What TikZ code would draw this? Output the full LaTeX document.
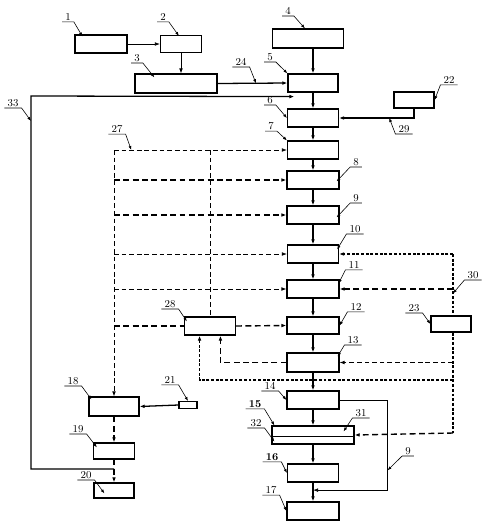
\documentclass[tikz,border=0pt]{standalone}
\usepackage{tikz}
\usetikzlibrary{arrows.meta,calc}

\tikzset{
	box/.style={draw, line width=1pt, inner sep=0pt},
	tag/.style={font=\small, inner xsep=2.5pt, inner ysep=1pt},
	lead/.style={line width=0.5pt, -{Latex[length=1.2mm,width=0.9mm]}},
	pipe/.style={line width=1.1pt},
	fine/.style={line width=0.6pt},
	dashline/.style={line width=0.6pt, dash pattern=on 4pt off 2.5pt},
	heavydash/.style={line width=1.2pt, dash pattern=on 5pt off 3pt},
	shortdash/.style={line width=1.1pt, dash pattern=on 2.5pt off 1.5pt}
}

\begin{document}
\begin{tikzpicture}[x=0.03cm, y=-0.03cm, >={Latex[length=1.5mm,width=1.1mm]}]
	\useasboundingbox (0,0) rectangle (486,527);
	% boxes
	\node[box, minimum width=1.56cm, minimum height=.54cm] (b1) at (101,44) {};
	\node[box, minimum width=1.23cm, minimum height=.51cm] (b2) at (181,44) {};
	\node[box, minimum width=2.46cm, minimum height=.57cm] (b3) at (176,83.5) {};
	\node[box, minimum width=2.13cm, minimum height=.57cm] (b4) at (308,38.5) {};
	\node[box, minimum width=1.5cm, minimum height=.54cm] (b5) at (313,83) {};
	\node[box, minimum width=1.53cm, minimum height=.54cm] (b6) at (313,118) {};
	\node[box, minimum width=1.53cm, minimum height=.54cm] (b7) at (313,150) {};
	\node[box, minimum width=1.56cm, minimum height=.54cm] (b8) at (313,180) {};
	\node[box, minimum width=1.56cm, minimum height=.54cm] (b9) at (313,215) {};
	\node[box, minimum width=1.53cm, minimum height=.54cm] (b10) at (313,254) {};
	\node[box, minimum width=1.56cm, minimum height=.54cm] (b11) at (313,289) {};
	\node[box, minimum width=1.56cm, minimum height=.51cm] (b12) at (313,325.5) {};
	\node[box, minimum width=1.56cm, minimum height=.57cm] (b13) at (313,362.5) {};
	\node[box, minimum width=1.56cm, minimum height=.54cm] (b14) at (313,400) {};
	\node[box, minimum width=2.46cm, minimum height=.54cm] (b15) at (313,435) {};
	\node[box, minimum width=1.53cm, minimum height=.54cm] (b16) at (313,473) {};
	\node[box, minimum width=1.56cm, minimum height=.54cm] (b17) at (313,511) {};
	\node[box, minimum width=1.5cm, minimum height=.57cm] (b18) at (114,406.5) {};
	\node[box, minimum width=1.23cm, minimum height=.48cm] (b19) at (114,451) {};
	\node[box, minimum width=1.2cm, minimum height=.45cm] (b20) at (114,490.5) {};
	\node[box, minimum width=.54cm, minimum height=.21cm] (b21) at (188,405) {};
	\node[box, minimum width=1.2cm, minimum height=.48cm] (b22) at (414,100) {};
	\node[box, minimum width=1.2cm, minimum height=.48cm] (b23) at (451,324) {};
	\node[box, minimum width=1.53cm, minimum height=.54cm] (b28) at (210,326) {};
	\draw[line width=0.8pt] ($(b15.north west)!.6!(b15.south west)$) -- ($(b15.north east)!.6!(b15.south east)$);
	% main line
	\draw[pipe,->] (b4.south -| b5) -- (b5.north);
	\foreach \a/\b in {5/6,6/7,7/8,8/9,9/10,10/11,11/12,12/13,13/14,14/15,15/16,16/17}
		\draw[pipe,->] (b\a.south) -- (b\b.north);
	\draw[fine,->] (b1.east) -- (b2.west);
	\draw[fine,->] (b2.south) -- (b2.south |- b3.north);
	\draw[pipe,->] (b3.east) -- (b5.west);
	\draw[pipe,->] (b22.south) |- (b6.east);
	\coordinate (m9) at ($(b16.south)!.4!(b17.north)$);
	\coordinate (c9) at ($(b14.east)+(48,0)$);
	\draw[fine,->] (b14.east) -- (c9) |- (m9);
	% left side
	\coordinate (ltop) at (114,150);
	\draw[dashline,->] (ltop) -- (b7.west);
	\draw[dashline,->] (ltop) -- (b18.north);
	\draw[heavydash,->] (ltop |- b8.west) -- (b8.west);
	\draw[heavydash,->] (ltop |- b9.west) -- (b9.west);
	\draw[dashline,->] (ltop |- b10.west) -- (b10.west);
	\draw[dashline,->] (ltop |- b11.west) -- (b11.west);
	\draw[heavydash] (ltop |- b28.west) -- (b28.west);
	\draw[heavydash,->] (b28.east) -- (b12.west);
	\draw[dashline] (b28.north |- ltop) -- (b28.north);
	\draw[heavydash,->] (b13.west) -| ($(b28.south west)!.7!(b28.south east)$);
	\draw[heavydash,->] (b18.south) -- (b19.north);
	\draw[heavydash,->] (b19.south) -- (b20.north);
	\draw[pipe,->] (b21.west) -- (b18.east);
	\coordinate (j33) at (114,469);
	\coordinate (k33) at (31,96);
	\draw[pipe,->] (j33) -| (k33) -- ($(b5.south west)+(7,4)$);
	% right side
	\coordinate (rtop) at (453,254);
	\coordinate (rmid) at (453,380);
	\coordinate (rbot) at (453,433);
	\draw[shortdash,->] (rtop) -- (b10.east);
	\draw[shortdash] (rtop) -- (rtop |- b23.north);
	\draw[shortdash] (rtop |- b23.south) -- (rbot);
	\draw[heavydash,->] (rtop |- b11.east) -- (b11.east);
	\draw[dashline,->] (rtop |- b13.east) -- (b13.east);
	\draw[shortdash,->] (rmid) -| ($(b28.south west)!.3!(b28.south east)$);
	\draw[heavydash,->] (rbot) -- (b15.east);
	% tags
	\node[tag] (t1) at (68,17) {1};
	\draw[lead] (t1.south west) -- (t1.south east) -- ($(b1.north west)+(8,2)$);
	\node[tag] (t2) at (163,17) {2};
	\draw[lead] (t2.south west) -- (t2.south east) -- ($(b2.north west)+(19,1)$);
	\node[tag] (t3) at (137,58) {3};
	\draw[lead] (t3.south west) -- (t3.south east) -- ($(b3.north west)+(20,4)$);
	\node[tag] (t4) at (288,11) {4};
	\draw[lead] (t4.south west) -- (t4.south east) -- ($(b4.north west)+(33,0)$);
	\node[tag] (t5) at (270,57) {5};
	\draw[lead] (t5.south west) -- (t5.south east) -- (b5.north west);
	\node[tag] (t6) at (270,100) {6};
	\draw[lead] (t6.south west) -- (t6.south east) -- (b6.west);
	\node[tag] (t7) at (271,126) {7};
	\draw[lead] (t7.south west) -- (t7.south east) -- (b7.north west);
	\node[tag] (t24) at (241,62) {24};
	\draw[lead] (t24.south west) -- (t24.south east) -- ($(b3.east)!.55!(b5.west)$);
	\node[tag] (t27) at (117,129) {27};
	\draw[lead] (t27.south west) -- (t27.south east) -- ($(ltop)!.1!(b7.west)$);
	\node[tag] (t28) at (170,304) {28};
	\draw[lead] (t28.south west) -- (t28.south east) -- ($(b28.north west)+(3,5)$);
	\node[tag] (t18) at (73,381) {18};
	\draw[lead] (t18.south west) -- (t18.south east) -- ($(b18.north west)+(3,3)$);
	\node[tag] (t19) at (78,429) {19};
	\draw[lead] (t19.south west) -- (t19.south east) -- ($(b19.north west)+(4,5)$);
	\node[tag] (t20) at (86,475) {20};
	\draw[lead] (t20.south west) -- (t20.south east) -- ($(b20.north west)+(11,11)$);
	\node[tag] (t21) at (170,380) {21};
	\draw[lead] (t21.south west) -- (t21.south east) -- (b21.north);
	\node[tag] (t33) at (13,103) {33};
	\draw[lead] (t33.south west) -- (t33.south east) -- ($(k33)+(0,25)$);
	\node[tag] (t14) at (270,386) {14};
	\draw[lead] (t14.south west) -- (t14.south east) -- (b14.west);
	\node[tag, font=\small\bfseries] (t15) at (255,404) {15};
	\draw[lead] (t15.south west) -- (t15.south east) -- ($(b15.north west)+(3,0)$);
	\node[tag] (t32) at (256,423) {32};
	\draw[lead] (t32.south west) -- (t32.south east) -- ($(b15.south west)+(3,-3)$);
	\node[tag, font=\small\bfseries] (t16) at (272,457) {16};
	\draw[lead] (t16.south west) -- (t16.south east) -- (b16.west);
	\node[tag] (t17) at (271,490) {17};
	\draw[lead] (t17.south west) -- (t17.south east) -- (b17.west);
	\node[tag] (t23) at (414,308) {23};
	\draw[lead] (t23.south west) -- (t23.south east) -- (b23.west);
	\node[tag] (t8) at (356,162) {8};
	\draw[lead] (t8.south east) -- (t8.south west) -- ($(b8.north east)+(-3,11)$);
	\node[tag] (t9) at (356,198) {9};
	\draw[lead] (t9.south east) -- (t9.south west) -- ($(b9.north east)+(-3,12)$);
	\node[tag] (t10) at (355,229) {10};
	\draw[lead] (t10.south east) -- (t10.south west) -- ($(b10.north east)+(-2,5)$);
	\node[tag] (t11) at (354,265) {11};
	\draw[lead] (t11.south east) -- (t11.south west) -- ($(b11.north east)+(-1,4)$);
	\node[tag] (t12) at (356,307) {12};
	\draw[lead] (t12.south east) -- (t12.south west) -- (b12.east);
	\node[tag] (t13) at (353,340) {13};
	\draw[lead] (t13.south east) -- (t13.south west) -- ($(b13.north east)+(-2,4)$);
	\node[tag] (t31) at (361,413) {31};
	\draw[lead] (t31.south east) -- (t31.south west) -- ($(b15.north east)+(-11,6)$);
	\node[tag] (t22) at (449,80) {22};
	\draw[lead] (t22.south east) -- (t22.south west) -- (b22.east);
	\node[tag] (t29) at (404,129) {29};
	\draw[lead] (t29.south east) -- (t29.south west) -- ($(b6.east)!.67!(b6.east -| b22.south)$);
	\node[tag] (t30) at (473,275) {30};
	\draw[lead] (t30.south east) -- (t30.south west) -- ($(rtop)!.22!(rbot)$);
	\node[tag] (t9b) at (408,451) {9};
	\draw[lead] (t9b.south east) -- (t9b.south west) -- ($(c9)!.78!(c9 |- m9)$);
\end{tikzpicture}
\end{document}
